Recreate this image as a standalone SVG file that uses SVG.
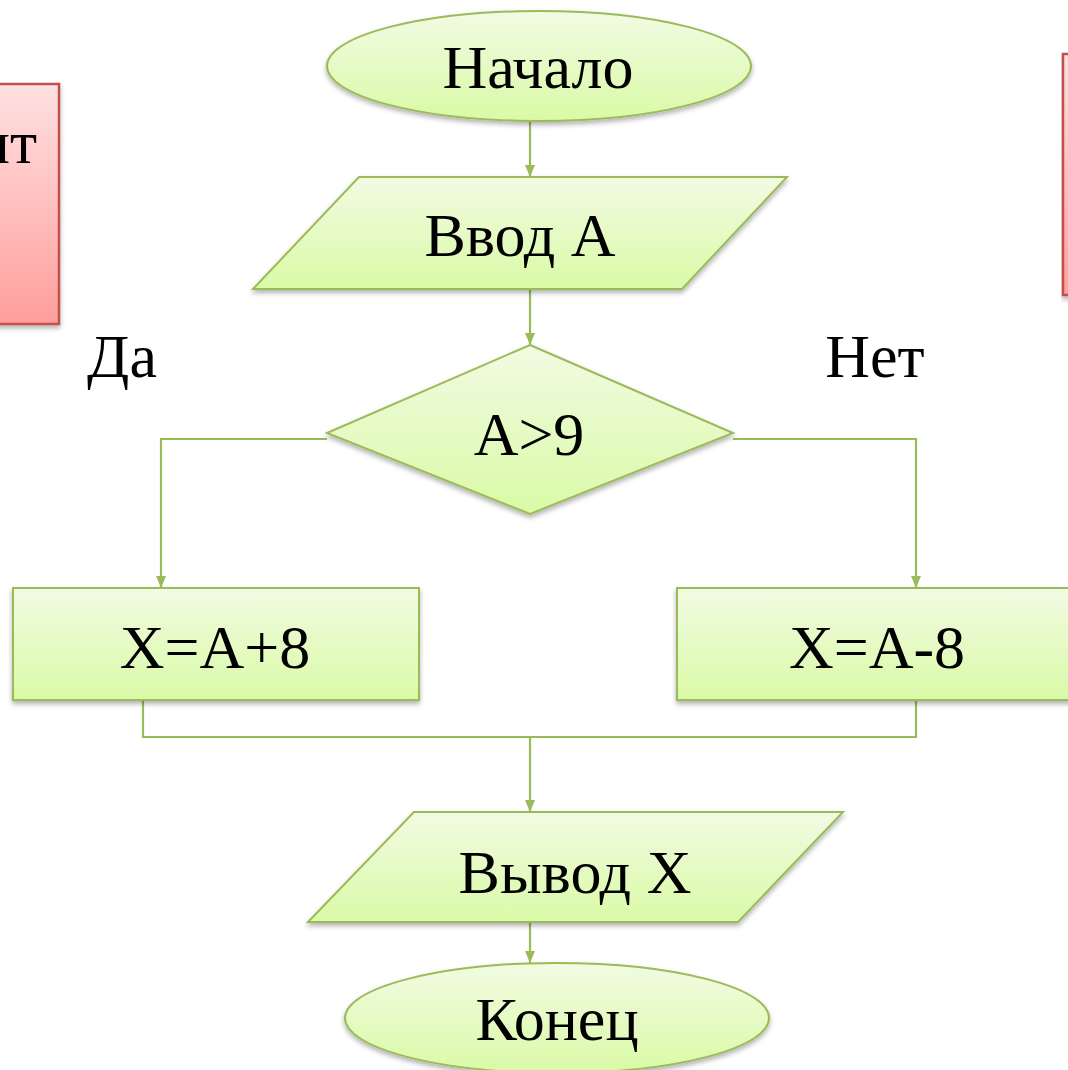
<svg xmlns="http://www.w3.org/2000/svg" width="1068" height="1070" viewBox="0 0 1068 1070">
<defs>
<linearGradient id="gg" x1="0" y1="0" x2="0" y2="1">
<stop offset="0" stop-color="#f1fbe3"/>
<stop offset="1" stop-color="#dafaa6"/>
</linearGradient>
<linearGradient id="rg" x1="0" y1="0" x2="0" y2="1">
<stop offset="0" stop-color="#ffe1e1"/>
<stop offset="1" stop-color="#ff9f9c"/>
</linearGradient>
<filter id="sh" x="-10%" y="-10%" width="120%" height="130%">
<feDropShadow dx="0" dy="3" stdDeviation="2.5" flood-color="#000" flood-opacity="0.3"/>
</filter>
<marker id="ah" viewBox="0 0 12 10" refX="12" refY="5" markerWidth="12" markerHeight="10" markerUnits="userSpaceOnUse" orient="auto">
<path d="M0,0 L12,5 L0,10 Z" fill="#9bbb59"/>
</marker>
</defs>
<style>
.g{fill:url(#gg);stroke:#9bbb59;stroke-width:2;filter:url(#sh)}
.r{fill:url(#rg);stroke:#c0504d;stroke-width:2.5;filter:url(#sh)}
.t{font-family:"Liberation Serif","Times New Roman",serif;font-size:62px;fill:#000;text-anchor:middle}
.c{fill:none;stroke:#9bbb59;stroke-width:2.2}
</style>
<g id="note-left">
<rect class="r" x="-10" y="84" width="69" height="240"/>
<text class="t" x="37" y="163" style="text-anchor:end">нт</text>
</g>
<g id="note-right">
<rect class="r" x="1063" y="54" width="20" height="241"/>
</g>
<g id="connectors">
<path class="c" d="M530,122 V177" marker-end="url(#ah)"/>
<path class="c" d="M530,290 V345" marker-end="url(#ah)"/>
<path class="c" d="M327,439 H161 V588" marker-end="url(#ah)"/>
<path class="c" d="M733,439 H916 V588" marker-end="url(#ah)"/>
<path class="c" d="M143,700 V737 H916 V700"/>
<path class="c" d="M530,737 V812" marker-end="url(#ah)"/>
<path class="c" d="M530,922 V963" marker-end="url(#ah)"/>
</g>
<g id="start">
<ellipse class="g" cx="539" cy="66" rx="212" ry="55"/>
<text class="t" x="538" y="88">Начало</text>
</g>
<g id="input">
<polygon class="g" points="359,177 787,177 682,289 253,289"/>
<text class="t" x="520" y="256">Ввод А</text>
</g>
<g id="decision">
<polygon class="g" points="530,345 733,433 530,514 327,433"/>
<text class="t" x="529" y="455">A&gt;9</text>
</g>
<g id="label-yes"><text class="t" x="122" y="377">Да</text></g>
<g id="label-no"><text class="t" x="875" y="377">Нет</text></g>
<g id="proc-left">
<rect class="g" x="13" y="588" width="406" height="112"/>
<text class="t" x="215" y="668">X=A+8</text>
</g>
<g id="proc-right">
<rect class="g" x="677" y="588" width="410" height="112"/>
<text class="t" x="877" y="668">X=A-8</text>
</g>
<g id="output">
<polygon class="g" points="414,812 843,812 738,922 308,922"/>
<text class="t" x="575" y="893">Вывод Х</text>
</g>
<g id="end">
<ellipse class="g" cx="557" cy="1018" rx="212" ry="55"/>
<text class="t" x="557" y="1040">Конец</text>
</g>
</svg>
